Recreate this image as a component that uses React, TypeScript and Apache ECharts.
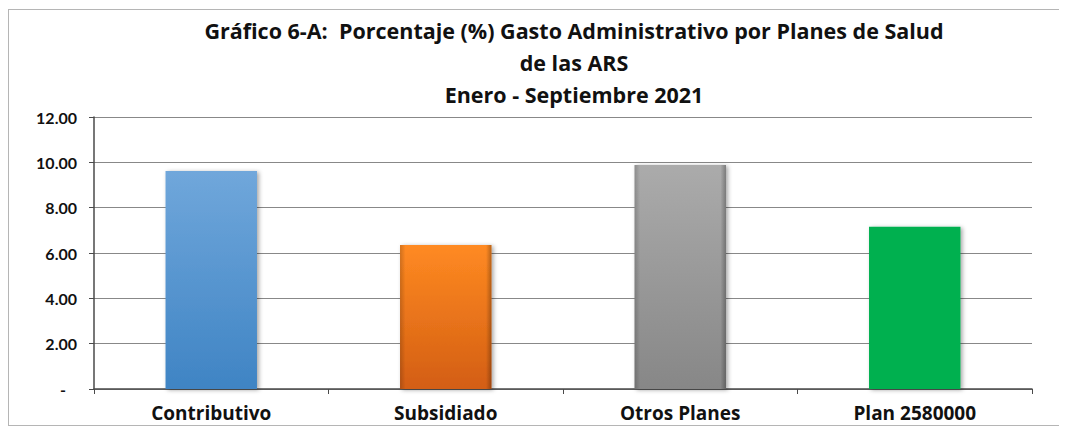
import React, { useEffect, useRef } from "react";
import * as echarts from "echarts";

const categories = ["Contributivo", "Subsidiado", "Otros Planes", "Plan 2580000"];
const values = [9.62, 6.35, 9.88, 7.16];
const bevelled = [false, true, true, false];
const titleLines = [
  "Gráfico 6-A:  Porcentaje (%) Gasto Administrativo por Planes de Salud",
  "de las ARS",
  "Enero - Septiembre 2021",
];

const FONT = "Lato, 'Open Sans', sans-serif";
const WIDE = "'Open Sans', 'Noto Sans', sans-serif";

const barColors = [
  new echarts.graphic.LinearGradient(0, 0, 0, 1, [
    { offset: 0, color: "#70a7db" },
    { offset: 1, color: "#3f84c4" },
  ]),
  new echarts.graphic.LinearGradient(0, 0, 0, 1, [
    { offset: 0, color: "#ff8a22" },
    { offset: 1, color: "#d35e13" },
  ]),
  new echarts.graphic.LinearGradient(0, 0, 0, 1, [
    { offset: 0, color: "#ababab" },
    { offset: 1, color: "#878787" },
  ]),
  "#00b050",
];

const edgeShade = new echarts.graphic.LinearGradient(1, 0, 0, 0, [
  { offset: 0, color: "rgba(0,0,0,0.28)" },
  { offset: 0.06, color: "rgba(0,0,0,0)" },
  { offset: 0.94, color: "rgba(0,0,0,0)" },
  { offset: 1, color: "rgba(0,0,0,0.18)" },
]);

export default function App() {
  const ref = useRef<HTMLDivElement>(null);
  useEffect(() => {
    if (!ref.current) return;
    const chart = echarts.init(ref.current, undefined, { renderer: "svg" });
    chart.setOption({
      animation: false,
      backgroundColor: "#ffffff",
      title: {
        text: titleLines.join("\n"),
        left: 565,
        top: 4,
        padding: 0,
        textAlign: "center",
        textStyle: {
          fontFamily: WIDE,
          fontWeight: "bold",
          fontSize: 21.5,
          lineHeight: 32,
          color: "#111111",
        },
      },
      grid: { left: 85, top: 107, width: 938, height: 272, containLabel: false },
      xAxis: {
        type: "category",
        data: categories,
        axisLine: { lineStyle: { color: "#4a4a4a", width: 1.5 } },
        axisTick: { show: true, alignWithLabel: false, length: 5, lineStyle: { color: "#4a4a4a" } },
        axisLabel: {
          fontFamily: WIDE,
          fontWeight: "bold",
          fontSize: 19,
          lineHeight: 20,
          color: "#111111",
          margin: 14,
        },
        splitLine: { show: false },
      },
      yAxis: {
        type: "value",
        min: 0,
        max: 12,
        interval: 2,
        axisLine: { show: true, lineStyle: { color: "#4a4a4a", width: 1.5 } },
        axisTick: { show: true, length: 5, lineStyle: { color: "#4a4a4a" } },
        splitLine: { lineStyle: { color: "#888888", width: 1.2 } },
        axisLabel: {
          fontFamily: FONT,
          fontWeight: "bold",
          fontSize: 16,
          color: "#111111",
          margin: 17,
          formatter: (v: number) => (v === 0 ? "{z|-}" : v.toFixed(2)),
          rich: {
            z: {
              fontFamily: FONT,
              fontWeight: "bold",
              fontSize: 16,
              color: "#111111",
              padding: [0, 11, 0, 0],
            },
          },
        },
      },
      series: [
        {
          type: "bar",
          barWidth: "39%",
          data: values.map((v, i) => ({
            value: v,
            itemStyle: {
              color: barColors[i],
              shadowColor: "rgba(0,0,0,0.35)",
              shadowBlur: 4,
              shadowOffsetX: 2,
              shadowOffsetY: 1,
            },
          })),
        },
        {
          type: "bar",
          barWidth: "39%",
          barGap: "-100%",
          silent: true,
          data: values.map((v, i) => (bevelled[i] ? v : null)),
          itemStyle: { color: edgeShade },
        },
      ],
    });
    return () => chart.dispose();
  }, []);

  return (
    <div
      style={{
        position: "relative",
        width: 1060,
        height: 417,
        marginTop: 1,
        border: "1px solid #b5b5b5",
        boxSizing: "border-box",
        overflow: "hidden",
        background: "#fff",
      }}
    >
      <div ref={ref} style={{ width: 1058, height: 440 }} />
    </div>
  );
}
